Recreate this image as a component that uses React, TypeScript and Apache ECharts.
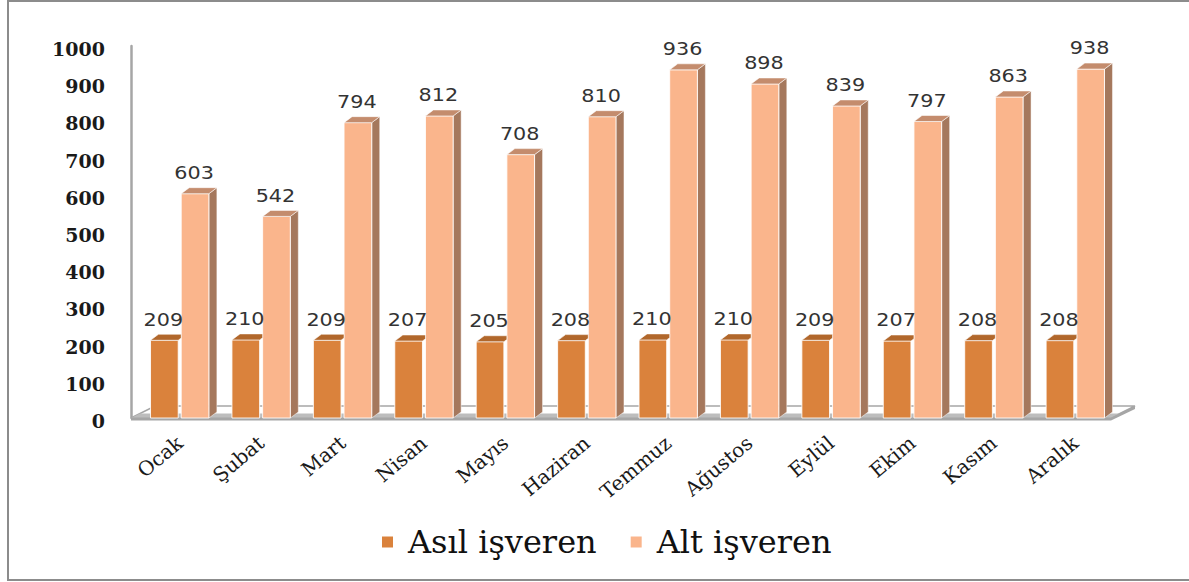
import React, { useEffect, useRef } from "react";
import * as echarts from "echarts";

// Monthly counts per employer type
const months = ["Ocak", "Şubat", "Mart", "Nisan", "Mayıs", "Haziran", "Temmuz", "Ağustos", "Eylül", "Ekim", "Kasım", "Aralık"];
const asilValues = [209, 210, 209, 207, 205, 208, 210, 210, 209, 207, 208, 208];
const altValues = [603, 542, 794, 812, 708, 810, 936, 898, 839, 797, 863, 938];
const seriesNames = ["Asıl işveren", "Alt işveren"];
const yMin = 0;
const yMax = 1000;
const yStep = 100;

const ASIL = { front: "#da823c", top: "#b1672b", side: "#9c5a26" };
const ALT = { front: "#fab58c", top: "#c48c6d", side: "#a5785d" };

// Depth of the pseudo-3D boxes
const DX = 8;
const DY = 6;
const GAP = 1.5;

function makeBarRenderer(side: number, c: { front: string; top: string; side: string }, isFront: boolean) {
  return (params: any, api: any) => {
    const idx = api.value(0);
    const val = api.value(1);
    const base = api.coord([idx, 0]);
    const tip = api.coord([idx, val]);
    const band = api.size([1, 0])[0];
    const w = band * 0.34;
    const cx = base[0];
    const yb = base[1];
    const yt = tip[1];
    const x0 = side < 0 ? cx - GAP - w : cx + GAP;
    const x1 = x0 + w;
    const children: any[] = [];
    if (!isFront) {
      children.push({
        type: "polygon",
        shape: { points: [[x1, yt], [x1 + DX, yt - DY], [x1 + DX, yb - DY], [x1, yb]] },
        style: { fill: c.side, stroke: "rgba(255,255,255,0.6)", lineWidth: 0.8 },
      });
    }
    children.push({
      type: "rect",
      shape: { x: x0, y: yt, width: w, height: yb - yt },
      style: { fill: c.front, stroke: "rgba(255,255,255,0.85)", lineWidth: 1 },
    });
    // The left column's top face stops where the neighbouring column begins
    const cut = 2 * GAP;
    const topPts = isFront
      ? [[x0, yt], [x1, yt], [x1 + cut, yt - (DY * cut) / DX], [x1 + cut, yt - DY], [x0 + DX, yt - DY]]
      : [[x0, yt], [x1, yt], [x1 + DX, yt - DY], [x0 + DX, yt - DY]];
    children.push({
      type: "polygon",
      shape: { points: topPts },
      style: { fill: c.top, stroke: "rgba(255,255,255,0.7)", lineWidth: 0.8 },
    });
    children.push({
      type: "text",
      x: (x0 + x1) / 2 - 1,
      y: yt - 21,
      scaleX: 1.22,
      style: {
        text: String(val),
        x: 0,
        y: 0,
        align: "center",
        verticalAlign: "middle",
        fontFamily: "DejaVu Sans",
        fontSize: 17,
        fill: "#333333",
      },
    });
    return { type: "group", children };
  };
}

// Floor slab under the columns, spanning the plot area
function renderFloor(params: any) {
  const cs = params.coordSys;
  const x0 = cs.x - 8;
  const x1 = cs.x + cs.width - 5;
  const yb = cs.y + cs.height;
  const bx = 24;
  const by = 12;
  return {
    type: "group",
    children: [
      {
        type: "polygon",
        shape: { points: [[x0, yb], [x1, yb], [x1 + bx, yb - by], [x0 + bx, yb - by]] },
        style: { fill: "#ffffff", stroke: "#a6a6a6", lineWidth: 1.5 },
      },
      {
        type: "polygon",
        shape: { points: [[x0, yb], [x1, yb], [x1 + 9, yb - 4.5], [x0 + 9, yb - 4.5]] },
        style: { fill: "#bdbdbd" },
      },
      {
        type: "rect",
        shape: { x: x0, y: yb - 0.5, width: x1 - x0, height: 3 },
        style: { fill: "#a6a6a6" },
      },
      {
        type: "polygon",
        shape: { points: [[x1, yb - 0.5], [x1 + bx, yb - by], [x1 + bx, yb - by + 3], [x1, yb + 2.5]] },
        style: { fill: "#a6a6a6" },
      },
    ],
  };
}

export default function App() {
  const ref = useRef<HTMLDivElement>(null);

  useEffect(() => {
    if (!ref.current) return;
    const chart = echarts.init(ref.current, null, { renderer: "svg" });
    chart.setOption({
      animation: false,
      backgroundColor: "#ffffff",
      grid: { left: 139, right: 73, top: 46, bottom: 164, containLabel: false },
      graphic: [
        {
          type: "rect",
          shape: { x: 8, y: 1, width: 1200, height: 579 },
          style: { fill: "none", stroke: "#8c8c8c", lineWidth: 2 },
          z: 100,
        },
      ],
      legend: {
        data: seriesNames,
        left: 377,
        top: 521,
        icon: "rect",
        itemWidth: 11,
        itemHeight: 11,
        itemGap: 34,
        textStyle: {
          fontFamily: "DejaVu Serif",
          fontSize: 32,
          color: "#111111",
          padding: [0, 0, 0, 10],
        },
      },
      xAxis: {
        type: "category",
        data: months,
        boundaryGap: true,
        axisLine: { show: false },
        axisTick: { show: false },
        axisLabel: {
          interval: 0,
          rotate: 40,
          margin: 22,
          fontFamily: "DejaVu Serif",
          fontSize: 20,
          color: "#1a1a1a",
        },
      },
      yAxis: {
        type: "value",
        min: yMin,
        max: yMax,
        interval: yStep,
        offset: 8,
        axisLine: { show: true, lineStyle: { color: "#a6a6a6", width: 2.5 } },
        axisTick: { show: false },
        splitLine: { show: false },
        axisLabel: {
          margin: 26,
          formatter: (v: number) => String(v),
          verticalAlign: "top",
          lineHeight: 6,
          fontFamily: "DejaVu Serif",
          fontWeight: "bold",
          fontSize: 19,
          color: "#1a1a1a",
        },
      },
      series: [
        {
          name: "floor",
          type: "custom",
          data: [[0, 0]],
          encode: { x: 0, y: 1 },
          renderItem: renderFloor,
          silent: true,
          z: 1,
        },
        {
          name: seriesNames[0],
          type: "custom",
          data: months.map((_, i) => [i, asilValues[i]]),
          encode: { x: 0, y: 1 },
          itemStyle: { color: ASIL.front },
          renderItem: makeBarRenderer(-1, ASIL, true),
          z: 4,
        },
        {
          name: seriesNames[1],
          type: "custom",
          data: months.map((_, i) => [i, altValues[i]]),
          encode: { x: 0, y: 1 },
          itemStyle: { color: ALT.front },
          renderItem: makeBarRenderer(1, ALT, false),
          z: 3,
        },
      ],
    });
    return () => chart.dispose();
  }, []);

  return (
    <div
      ref={ref}
      style={{ position: "absolute", left: 0, top: 0, width: 1189, height: 582, background: "#ffffff" }}
    />
  );
}
